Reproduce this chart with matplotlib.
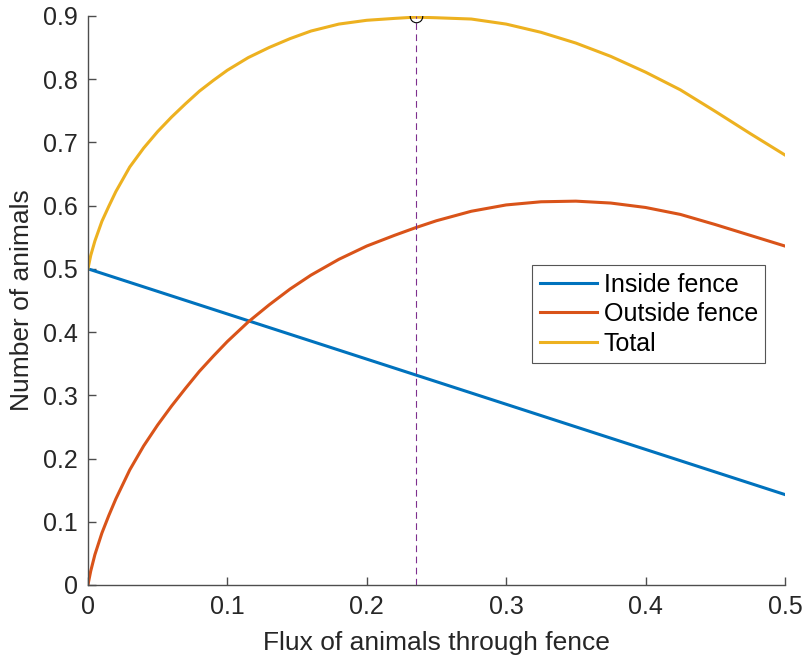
import matplotlib.pyplot as plt

# values
flux_in = [0, 0.5]
inside = [0.500, 0.143]

flux = [0, 0.002, 0.005, 0.01, 0.015, 0.02, 0.03, 0.04, 0.05, 0.06, 0.07, 0.08, 0.09,
        0.10, 0.115, 0.13, 0.145, 0.16, 0.18, 0.20, 0.22, 0.235, 0.25, 0.275, 0.30,
        0.325, 0.35, 0.375, 0.40, 0.425, 0.45, 0.475, 0.50]
outside = [0.000, 0.022, 0.048, 0.082, 0.110, 0.136, 0.182, 0.220, 0.253, 0.283, 0.311,
           0.338, 0.362, 0.385, 0.416, 0.443, 0.468, 0.490, 0.515, 0.536, 0.553, 0.565,
           0.576, 0.591, 0.601, 0.606, 0.607, 0.604, 0.597, 0.586, 0.570, 0.553, 0.536]
total = [0.500, 0.521, 0.544, 0.575, 0.599, 0.622, 0.661, 0.691, 0.717, 0.740, 0.761,
         0.781, 0.798, 0.814, 0.834, 0.850, 0.864, 0.876, 0.887, 0.893, 0.896, 0.898,
         0.897, 0.895, 0.887, 0.874, 0.857, 0.836, 0.811, 0.783, 0.749, 0.714, 0.680]
x_max = 0.235
y_max = 0.899

plt.rcParams['font.family'] = ['Liberation Sans', 'DejaVu Sans']

fig = plt.figure(figsize=(8.03, 6.61), dpi=100)
ax = fig.add_axes([0.1095, 0.115, 0.868, 0.861])

ax.plot(flux_in, inside, color='#0072BD', lw=2.2, label='Inside fence')
ax.plot(flux, outside, color='#D95319', lw=2.2, label='Outside fence')
ax.plot(flux, total, color='#EDB120', lw=2.2, label='Total')
ax.plot([x_max, x_max], [0, y_max], color='#7E2F8E', lw=0.8, ls=(0, (6, 4)))
ax.plot(x_max, y_max, 'o', mfc='none', mec='black', ms=9, mew=0.8)

ax.set_xlim(0, 0.5)
ax.set_ylim(0, 0.9)
ax.set_xticks([0, 0.1, 0.2, 0.3, 0.4, 0.5])
ax.set_xticklabels(['0', '0.1', '0.2', '0.3', '0.4', '0.5'])
ax.set_yticks([i / 10 for i in range(10)])
ax.set_yticklabels(['0'] + [f'0.{i}' for i in range(1, 10)])

for s in ['top', 'right']:
    ax.spines[s].set_visible(False)
for s in ['left', 'bottom']:
    ax.spines[s].set_color('#4d4d4d')
    ax.spines[s].set_linewidth(1)
ax.tick_params(direction='in', length=6, width=1, color='#4d4d4d',
               labelsize=18, labelcolor='#262626', pad=7)

ax.set_xlabel('Flux of animals through fence', fontsize=19, color='#262626', labelpad=9)
ax.set_ylabel('Number of animals', fontsize=19, color='#262626', labelpad=7)

leg = ax.legend(loc='upper right', bbox_to_anchor=(0.972, 0.562), fontsize=18,
                fancybox=False, framealpha=1, edgecolor='#555555', handlelength=2.3,
                handletextpad=0.25, borderpad=0.3, labelspacing=0.22, borderaxespad=0)
leg.get_frame().set_linewidth(0.8)

fig.savefig('out.png', dpi=100)
